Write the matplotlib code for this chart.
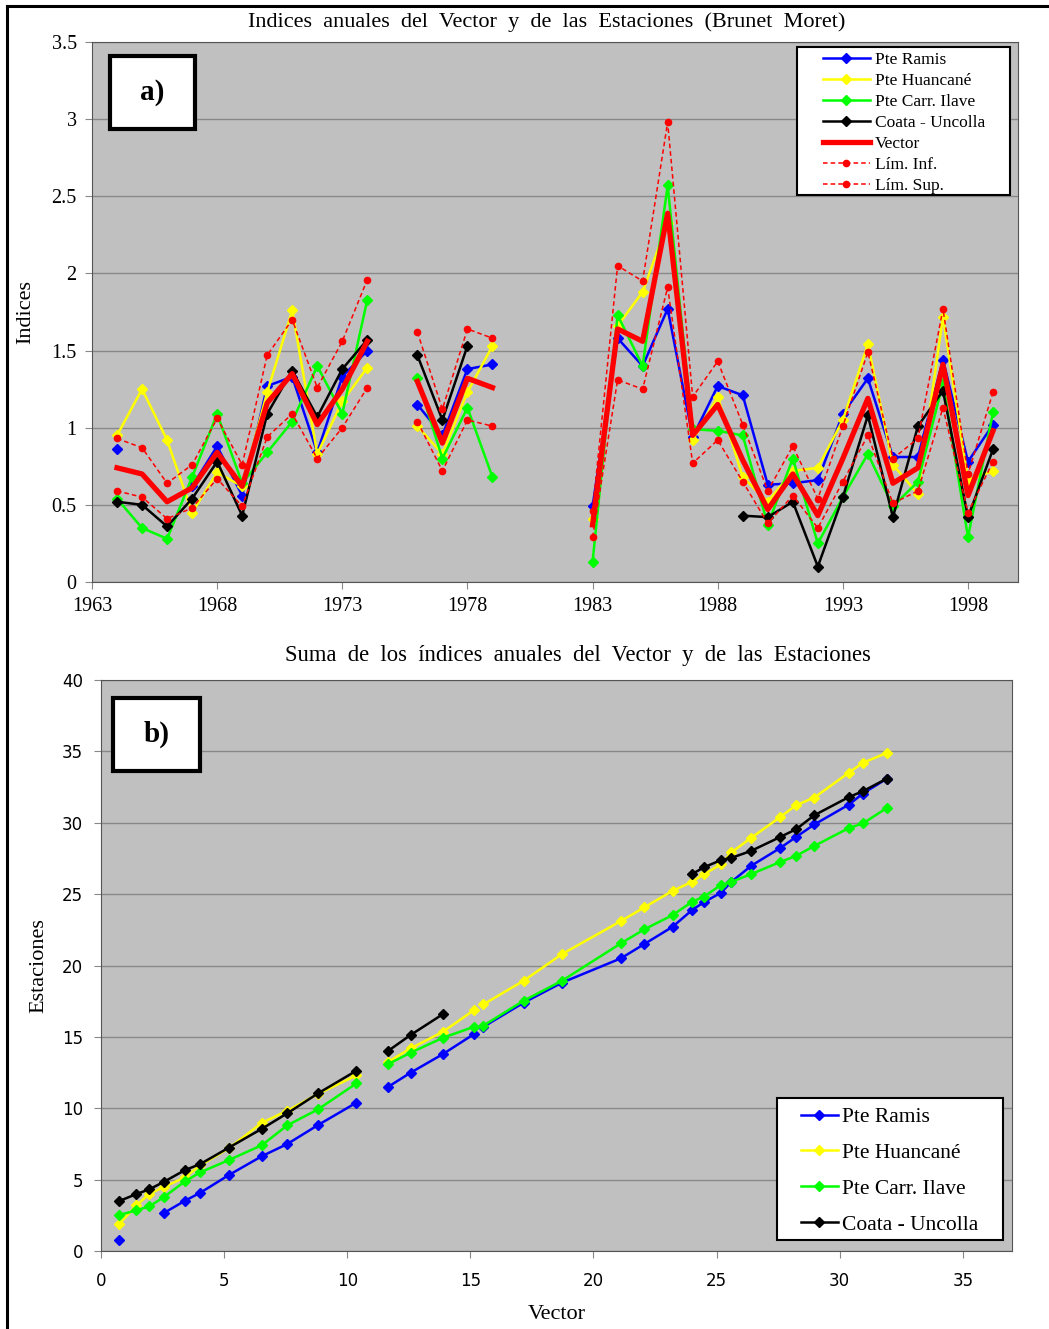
import numpy as np
import matplotlib
matplotlib.use("Agg")
import matplotlib.pyplot as plt
from matplotlib.patches import Rectangle
from matplotlib.lines import Line2D
from matplotlib.ticker import FuncFormatter

plt.rcParams['font.family'] = 'Liberation Serif'

nan = np.nan

#---------------------------------------------------------------
# annual indices 1964-1999 (nan = no data that year)
#---------------------------------------------------------------
years = list(range(1964, 2000))

vector = [0.74, 0.70, 0.52, 0.61, 0.84, 0.62, 1.16, 1.35, 1.02, 1.25, 1.56, nan,
          1.30, 0.90, 1.32, 1.26, nan, nan, nan,
          0.37, 1.64, 1.56, 2.39, 0.95, 1.15, 0.79, 0.47, 0.70, 0.43, 0.80, 1.19,
          0.64, 0.74, 1.41, 0.56, 0.98]

ramis = [0.86, nan, nan, 0.62, 0.88, 0.56, 1.27, 1.33, 0.84, 1.33, 1.50, nan,
         1.15, 0.95, 1.38, 1.41, nan, nan, nan,
         0.49, 1.58, 1.40, 1.77, 0.94, 1.27, 1.21, 0.63, 0.64, 0.66, 1.09, 1.32,
         0.81, 0.81, 1.44, 0.78, 1.02]

huancane = [0.95, 1.25, 0.92, 0.45, 0.71, 0.62, 1.23, 1.76, 0.83, 1.17, 1.39, nan,
            1.01, 0.83, 1.23, 1.53, nan, nan, nan,
            0.41, 1.66, 1.88, 2.33, 0.92, 1.20, 0.68, 0.52, 0.72, 0.74, 1.05, 1.54,
            0.76, 0.57, 1.72, 0.66, 0.72]

ilave = [0.54, 0.35, 0.28, 0.68, 1.09, 0.64, 0.84, 1.04, 1.40, 1.09, 1.83, nan,
         1.32, 0.80, 1.13, 0.68, nan, nan, nan,
         0.13, 1.73, 1.40, 2.57, 0.99, 0.98, 0.95, 0.37, 0.80, 0.25, 0.55, 0.83,
         0.49, 0.65, 1.29, 0.29, 1.10]

coata = [0.52, 0.50, 0.36, 0.54, 0.78, 0.43, 1.09, 1.37, 1.07, 1.38, 1.57, nan,
         1.47, 1.05, 1.53, nan, nan, nan, nan,
         nan, nan, nan, nan, nan, nan, 0.43, 0.42, 0.52, 0.10, 0.55, 1.08,
         0.42, 1.01, 1.24, 0.42, 0.86]

lim_inf = [0.59, 0.55, 0.41, 0.48, 0.67, 0.49, 0.94, 1.09, 0.80, 1.00, 1.26, nan,
           1.04, 0.72, 1.05, 1.01, nan, nan, nan,
           0.29, 1.31, 1.25, 1.91, 0.77, 0.92, 0.65, 0.38, 0.56, 0.35, 0.65, 0.95,
           0.51, 0.59, 1.13, 0.45, 0.78]

lim_sup = [0.93, 0.87, 0.64, 0.76, 1.06, 0.76, 1.47, 1.70, 1.26, 1.56, 1.96, nan,
           1.62, 1.12, 1.64, 1.58, nan, nan, nan,
           0.46, 2.05, 1.95, 2.98, 1.20, 1.43, 1.02, 0.59, 0.88, 0.54, 1.01, 1.49,
           0.80, 0.93, 1.77, 0.70, 1.23]

# accumulated station indices (same year grid)
sum_ramis = [0.77, nan, nan, 2.68, 3.52, 4.08, 5.32, 6.65, 7.49, 8.82, 10.39, nan,
             11.51, 12.49, 13.80, 15.20, nan, nan, nan,
             15.70, 17.39, 18.80, 20.50, 21.50, 22.71, 23.88, 24.42, 25.09, 25.86,
             26.98, 28.24, 29.01, 29.88, 31.28, 32.05, 33.10]

sum_huancane = [1.89, 3.20, 4.00, 4.50, 5.16, 6.00, 7.20, 8.99, 9.82, 11.00, 12.30, nan,
                13.26, 14.19, 15.36, 16.88, nan, nan, nan,
                17.27, 18.93, 20.80, 23.11, 24.07, 25.23, 25.86, 26.38, 27.08, 27.92,
                28.94, 30.41, 31.23, 31.77, 33.52, 34.20, 34.90]

sum_ilave = [2.52, 2.85, 3.12, 3.80, 4.88, 5.51, 6.37, 7.42, 8.80, 9.92, 11.74, nan,
             13.10, 13.89, 14.94, 15.71, nan, nan, nan,
             15.78, 17.53, 18.93, 21.55, 22.53, 23.53, 24.46, 24.81, 25.63, 25.86,
             26.40, 27.26, 27.68, 28.38, 29.64, 29.95, 31.05]

sum_coata = [3.50, 3.99, 4.32, 4.86, 5.67, 6.09, 7.24, 8.57, 9.64, 11.04, 12.63, nan,
             14.03, 15.13, 16.60, nan, nan, nan, nan,
             nan, nan, nan, nan, nan, nan, 26.40, 26.87, 27.38, 27.54,
             28.03, 29.01, 29.55, 30.53, 31.81, 32.21, 33.10]

station_names = ['Pte Ramis', 'Pte Huancané', 'Pte Carr. Ilave', 'Coata - Uncolla']
station_colors = ['#0000FF', '#FFFF00', '#00FF00', '#000000']

bg = '#C0C0C0'
gridc = '#888888'
spinec = '#555555'

fig = plt.figure(figsize=(10.49, 13.29), dpi=100)


def legend_box(ax, x0, y0, x1, y1):
    # white legend frame drawn separately so the entries can sit inside with Excel-like padding
    ax.add_patch(Rectangle((x0, y0), x1 - x0, y1 - y0, transform=ax.transAxes,
                           facecolor='white', edgecolor='black', lw=1.5, zorder=8))


#------------------------------ a) indices per year ------------------------------
ax1 = fig.add_axes([0.0877, 0.5621, 0.8828, 0.4063])
ax1.set_facecolor(bg)

for vals, name, col in zip([ramis, huancane, ilave, coata], station_names, station_colors):
    ax1.plot(years, vals, color=col, lw=1.8, marker='D', ms=5.5, label=name, zorder=3)
ax1.plot(years, vector, color='#FF0000', lw=3.8, label='Vector', zorder=4)
ax1.plot(years, lim_inf, color='#FF0000', lw=1.1, ls=(0, (3, 2)), marker='o', ms=4.5,
         label='Lím. Inf.', zorder=5)
ax1.plot(years, lim_sup, color='#FF0000', lw=1.1, ls=(0, (3, 2)), marker='o', ms=4.5,
         label='Lím. Sup.', zorder=5)

ax1.set_xlim(1963, 2000)
ax1.set_ylim(0, 3.5)
ax1.set_xticks(range(1963, 2000, 5))
ax1.set_yticks(np.arange(0, 3.51, 0.5))
ax1.yaxis.set_major_formatter(FuncFormatter(lambda v, p: '%g' % v))
ax1.grid(axis='y', color=gridc, lw=1)
ax1.set_axisbelow(True)
ax1.tick_params(labelsize=14.5, length=5, color=gridc, pad=6)
for s in ax1.spines.values():
    s.set_color(spinec)
ax1.set_title('Indices  anuales  del  Vector  y  de  las  Estaciones  (Brunet  Moret)',
              fontsize=16, pad=11, x=0.491)
ax1.set_ylabel('Indices', fontsize=16, labelpad=12)

legend_box(ax1, 0.7613, 0.7167, 0.9914, 0.9907)
leg1 = ax1.legend(loc='upper left', bbox_to_anchor=(0.7894, 0.982), borderaxespad=0,
                  fontsize=12.5, handlelength=2.7, handletextpad=0.3, labelspacing=0.28,
                  frameon=False, borderpad=0)
leg1.set_zorder(9)

ax1.add_patch(Rectangle((0.0194, 0.839), 0.0918, 0.135, transform=ax1.transAxes,
                        facecolor='white', edgecolor='black', lw=3, zorder=6))
ax1.text(0.0653, 0.9065, 'a)', transform=ax1.transAxes, ha='center', va='center',
         fontsize=21, fontweight='bold', zorder=7)

#------------------------------ b) accumulated indices ------------------------------
vec = np.array(vector)
x_sum = np.nancumsum(vec)
x_sum[np.isnan(vec)] = nan

ax2 = fig.add_axes([0.0963, 0.0587, 0.8685, 0.4296])
ax2.set_facecolor(bg)
for vals, name, col in zip([sum_ramis, sum_huancane, sum_ilave, sum_coata],
                           station_names, station_colors):
    ax2.plot(x_sum, vals, color=col, lw=1.8, marker='D', ms=5.5, label=name, zorder=3)

ax2.set_xlim(0, 37)
ax2.set_ylim(0, 40)
ax2.set_xticks(range(0, 36, 5))
ax2.set_yticks(range(0, 41, 5))
ax2.grid(axis='y', color=gridc, lw=1)
ax2.set_axisbelow(True)
ax2.tick_params(length=5, color=gridc)
ax2.tick_params(axis='x', pad=10)
ax2.tick_params(axis='y', pad=8)
for lab in ax2.get_xticklabels() + ax2.get_yticklabels():
    lab.set_family('DejaVu Sans')
    lab.set_fontsize(12)
for s in ax2.spines.values():
    s.set_color(spinec)
ax2.set_title('Suma  de  los  índices  anuales  del  Vector  y  de  las  Estaciones',
              fontsize=16.3, pad=14, x=0.524)
ax2.set_xlabel('Vector', fontsize=16, labelpad=11)
ax2.set_ylabel('Estaciones', fontsize=16, labelpad=10)

legend_box(ax2, 0.742, 0.0193, 0.990, 0.268)
leg2 = ax2.legend(loc='upper left', bbox_to_anchor=(0.7684, 0.252), borderaxespad=0,
                  fontsize=15.5, handlelength=1.7, handletextpad=0.2, labelspacing=0.73,
                  frameon=False, borderpad=0)
leg2.set_zorder(9)

ax2.add_patch(Rectangle((0.0132, 0.8406), 0.0955, 0.128, transform=ax2.transAxes,
                        facecolor='white', edgecolor='black', lw=3, zorder=6))
ax2.text(0.061, 0.9045, 'b)', transform=ax2.transAxes, ha='center', va='center',
         fontsize=21, fontweight='bold', zorder=7)

# outer frame (left and top edges)
fig.add_artist(Line2D([7 / 1049, 7 / 1049], [0, 1 - 6 / 1329], transform=fig.transFigure,
                      color='black', lw=2.2))
fig.add_artist(Line2D([7 / 1049, 1], [1 - 6 / 1329, 1 - 6 / 1329], transform=fig.transFigure,
                      color='black', lw=2.2))

fig.savefig('out.png', dpi=100)
